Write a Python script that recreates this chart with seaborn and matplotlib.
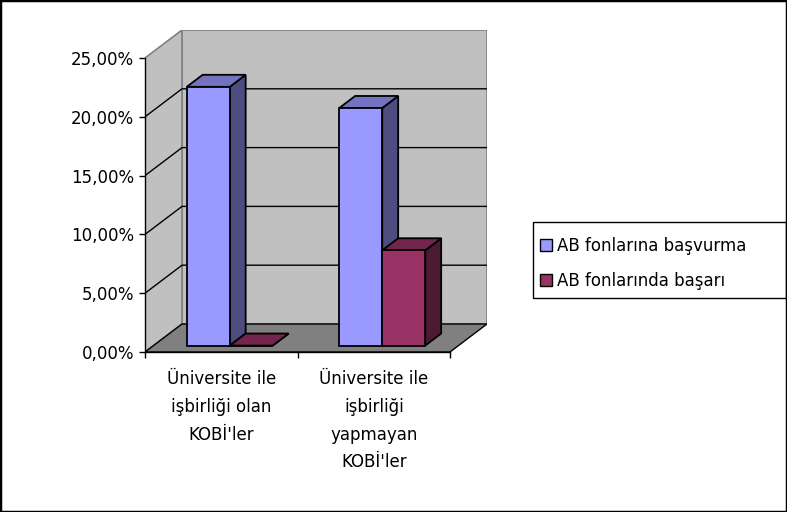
import matplotlib
matplotlib.use("Agg")
import matplotlib.pyplot as plt
import seaborn as sns
import pandas as pd
from matplotlib.patches import Polygon, Rectangle, Patch
from matplotlib.ticker import FuncFormatter, FixedLocator
from matplotlib.colors import to_rgb

# ---------------- data ----------------
categories = ["Üniversite ile\nişbirliği olan\nKOBİ'ler",
              "Üniversite ile\nişbirliği\nyapmayan\nKOBİ'ler"]
series_names = ["AB fonlarına başvurma", "AB fonlarında başarı"]
basvurma = [0.220, 0.202]
basari = [0.000, 0.081]
y_ticks = [0.00, 0.05, 0.10, 0.15, 0.20, 0.25]
colors = ["#9999FF", "#993366"]

sns.set_theme(style="white")
plt.rcParams["font.family"] = ["DejaVu Sans"]
plt.rcParams["text.color"] = "black"
FS = 12

df = pd.DataFrame({
    "cat": categories * 2,
    "series": [series_names[0]] * len(categories) + [series_names[1]] * len(categories),
    "value": basvurma + basari,
})

W, H = 787, 512
fig = plt.figure(figsize=(W / 100, H / 100), dpi=100)
fig.patch.set_facecolor("white")

# layout (pixels)
FX0, FX1 = 145, 450      # front plane x extent
FY0, FY1 = 352, 58       # front plane y of 0 and of top tick
DXP, DYP = 37, 28        # depth offset of back wall
ax = fig.add_axes([FX0 / W, (H - FY0) / H, (FX1 + DXP - FX0) / W, (FY0 - FY1 + DYP) / H])

ymax = y_ticks[-1]
ncat = len(categories)
xunit = (FX1 - FX0) / ncat
yunit = (FY0 - FY1) / ymax
DX = DXP / xunit
DY = DYP / yunit
F0 = 0.23   # bar front depth fraction
BD = 0.43   # bar depth fraction

sns.barplot(data=df, x="cat", y="value", hue="series", palette=colors,
            width=0.564, legend=False, ax=ax, saturation=1,
            edgecolor="black", linewidth=1.3)
bars = sorted(list(ax.patches), key=lambda p: p.get_x())

ax.set_xlim(-0.5, ncat - 0.5 + DX)
ax.set_ylim(0, ymax + DY)
ax.patch.set_visible(False)

wall_c = "#C0C0C0"
floor_c = "#808080"
x0, x1 = -0.5, ncat - 0.5
# back wall
ax.add_patch(Rectangle((x0 + DX, DY), x1 - x0, ymax, facecolor=wall_c,
                       edgecolor="#808080", lw=1.2, zorder=0.5))
# side wall
ax.add_patch(Polygon([(x0, 0), (x0 + DX, DY), (x0 + DX, ymax + DY), (x0, ymax)],
                     closed=True, facecolor=wall_c, edgecolor="#808080", lw=1.2, zorder=0.5))
# gridlines
for t in y_ticks[1:-1]:
    ax.plot([x0, x0 + DX, x1 + DX], [t, t + DY, t + DY], color="black", lw=1.0, zorder=0.8)
# floor
ax.add_patch(Polygon([(x0, 0), (x1, 0), (x1 + DX, DY), (x0 + DX, DY)],
                     closed=True, facecolor=floor_c, edgecolor="black", lw=1.0, zorder=1))


def shade(c, f):
    r, g, b = to_rgb(c)
    return (r * f, g * f, b * f)


for i, p in enumerate(bars):
    x = p.get_x() + F0 * DX
    w = p.get_width()
    h = p.get_height()
    y = F0 * DY
    fc = p.get_facecolor()
    p.set_x(x)
    p.set_y(y)
    z = 3 + i * 0.5
    ddx, ddy = BD * DX, BD * DY
    side = Polygon([(x + w, y), (x + w + ddx, y + ddy), (x + w + ddx, y + h + ddy), (x + w, y + h)],
                   closed=True, facecolor=shade(fc, 0.5), edgecolor="black", lw=1.3, zorder=z)
    top = Polygon([(x, y + h), (x + w, y + h), (x + w + ddx, y + h + ddy), (x + ddx, y + h + ddy)],
                  closed=True, facecolor=shade(fc, 0.75), edgecolor="black", lw=1.3, zorder=z + 0.1)
    ax.add_patch(side)
    ax.add_patch(top)
    p.set_zorder(z + 0.2)

# axes / ticks
for s in ["top", "right"]:
    ax.spines[s].set_visible(False)
ax.spines["left"].set_bounds(0, ymax)
ax.spines["bottom"].set_bounds(x0, x1)
for s in ["left", "bottom"]:
    ax.spines[s].set_color("black")
    ax.spines[s].set_linewidth(1.0)
    ax.spines[s].set_zorder(2)

ax.set_yticks(y_ticks)
ax.yaxis.set_major_formatter(FuncFormatter(lambda v, pos: f"{v * 100:.2f}%".replace(".", ",")))
ax.tick_params(axis="y", which="major", length=4.3, width=1, color="black",
               direction="out", pad=3.5, labelsize=FS, labelcolor="black", left=True)
ax.set_xticks(range(ncat))
ax.set_xticklabels(categories, linespacing=1.7)
ax.xaxis.set_minor_locator(FixedLocator([x0 + k for k in range(ncat + 1)]))
ax.tick_params(axis="x", which="major", length=0, pad=13, labelsize=FS, labelcolor="black")
ax.tick_params(axis="x", which="minor", length=4.3, width=1, color="black", direction="out", bottom=True)
for lab in ax.get_xticklabels():
    lab.set_verticalalignment("top")
ax.set_xlabel("")
ax.set_ylabel("")

# legend
handles = [Patch(facecolor=c, edgecolor="black", lw=1.0) for c in colors]
leg = fig.legend(handles=handles, labels=series_names, loc="upper left",
                 bbox_to_anchor=(540 / W, 1 - 237 / H), frameon=False,
                 handlelength=0.72, handleheight=0.72, handletextpad=0.3,
                 labelspacing=1.0, fontsize=FS, borderpad=0, borderaxespad=0,
                 labelcolor="black")
fig.patches.append(Rectangle((533 / W, 1 - 298 / H), (786 - 533) / W, (298 - 222) / H,
                             transform=fig.transFigure, fill=False, edgecolor="black", lw=1.0))
fig.patches.append(Rectangle((0, 0), 1, 1, transform=fig.transFigure, fill=False,
                             edgecolor="black", lw=2.5))

fig.savefig("out.png", dpi=100)
